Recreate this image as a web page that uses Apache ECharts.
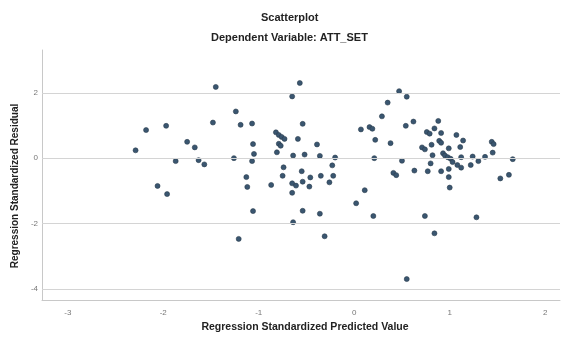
<!DOCTYPE html>
<html>
<head>
<meta charset="utf-8">
<script src="https://cdn.jsdelivr.net/npm/echarts@6/dist/echarts.min.js"></script>
<style>html,body{margin:0;padding:0;background:#fff;}#c{width:565px;height:338px;}</style>
</head>
<body>
<div id="c"></div>
<script>
var chartTitle = "Scatterplot";
var chartSubtitle = "Dependent Variable: ATT_SET";
var xName = "Regression Standardized Predicted Value";
var yName = "Regression Standardized Residual";
var xTicks = [-3, -2, -1, 0, 1, 2];
var yTicks = [-4, -2, 0, 2];
var predicted = [-2.29,-2.18,-2.06,-1.97,-1.96,-1.87,-1.75,-1.67,-1.63,-1.57,-1.48,-1.45,-1.24,-1.26,-1.21,-1.19,-1.13,-1.12,-1.07,-1.06,-1.05,-1.07,-1.06,-0.87,-0.82,-0.79,-0.76,-0.73,-0.79,-0.77,-0.81,-0.74,-0.75,-0.65,-0.61,-0.65,-0.64,-0.65,-0.57,-0.54,-0.59,-0.64,-0.52,-0.55,-0.54,-0.47,-0.46,-0.54,-0.39,-0.36,-0.35,-0.36,-0.31,-0.26,-0.23,-0.22,-0.20,0.02,0.07,0.11,0.16,0.19,0.22,0.21,0.20,0.29,0.35,0.38,0.41,0.44,0.47,0.55,0.50,0.54,0.62,0.63,0.55,0.74,0.84,0.71,0.74,0.76,0.79,0.84,0.88,0.91,0.81,0.89,0.91,0.82,0.80,0.77,0.91,0.99,0.93,0.95,0.98,1.01,1.03,1.08,1.12,0.99,0.99,1.00,1.07,1.14,1.11,1.12,1.22,1.24,1.30,1.28,1.37,1.44,1.46,1.45,1.53,1.62,1.66];
var residual = [0.24,0.86,-0.85,0.99,-1.10,-0.09,0.50,0.33,-0.06,-0.19,1.09,2.18,1.43,0.00,-2.47,1.02,-0.58,-0.88,1.06,0.43,0.13,-0.09,-1.62,-0.82,0.79,0.71,0.65,0.59,0.44,0.38,0.18,-0.28,-0.54,-0.77,-0.84,-1.06,-1.96,1.89,2.30,1.05,0.59,0.08,0.11,-0.40,-0.72,-0.87,-0.59,-1.61,0.42,0.07,-0.54,-1.70,-2.39,-0.74,-0.22,-0.54,0.02,-1.38,0.88,-0.98,0.95,0.90,0.56,0.00,-1.77,1.28,1.70,0.46,-0.45,-0.52,2.05,1.88,-0.08,0.99,1.12,-0.38,-3.70,-1.77,-2.30,0.33,0.27,0.80,0.75,0.91,1.14,0.77,0.41,0.53,0.47,0.09,-0.16,-0.40,-0.40,0.30,0.15,0.08,0.03,-0.02,-0.12,-0.21,-0.29,-0.33,-0.58,-0.90,0.71,0.54,0.34,0.03,-0.21,0.05,-0.09,-1.81,0.04,0.50,0.43,0.17,-0.62,-0.51,-0.03];

var points = predicted.map(function (v, i) { return [v, residual[i]]; });
var gridLineData = yTicks.map(function (v) { return { yAxis: v }; });

var chart = echarts.init(document.getElementById('c'), null, { renderer: 'canvas' });
var fontFam = '"Liberation Sans", Arial, sans-serif';
chart.setOption({
  animation: false,
  backgroundColor: '#ffffff',
  title: [
    { text: chartTitle, left: 261, top: 12, padding: 0,
      textStyle: { fontFamily: fontFam, fontSize: 11, fontWeight: 'bold', color: '#222' } },
    { text: chartSubtitle, left: 211, top: 32, padding: 0,
      textStyle: { fontFamily: fontFam, fontSize: 11, fontWeight: 'bold', color: '#222' } }
  ],
  grid: { left: 42, top: 50, width: 518, height: 250, containLabel: false },
  xAxis: {
    type: 'value', min: -3.27, max: 2.155,
    name: xName, nameLocation: 'middle', nameGap: 22,
    nameTextStyle: { fontFamily: fontFam, fontSize: 10.5, fontWeight: 'bold', color: '#222', padding: [0, 0, 0, 8] },
    axisLine: { show: true, onZero: false, lineStyle: { color: '#c8c8c8', width: 1 } },
    axisTick: { show: false },
    splitLine: { show: false },
    axisLabel: { customValues: xTicks, fontFamily: fontFam, fontSize: 8, color: '#777', margin: 9 }
  },
  yAxis: {
    type: 'value', min: -4.34, max: 3.31,
    name: yName, nameLocation: 'middle', nameGap: 21,
    nameTextStyle: { fontFamily: fontFam, fontSize: 10, fontWeight: 'bold', color: '#222', padding: [0, 22, 0, 0] },
    axisLine: { show: true, onZero: false, lineStyle: { color: '#c8c8c8', width: 1 } },
    axisTick: { show: false },
    splitLine: { show: false },
    axisLabel: { customValues: yTicks, fontFamily: fontFam, fontSize: 8, color: '#777', margin: 4 }
  },
  series: [
    {
      type: 'scatter', data: [], z: 1, silent: true,
      markLine: {
        silent: true, symbol: ['none', 'none'], animation: false,
        label: { show: false },
        lineStyle: { color: '#d4d4d4', width: 1, type: 'solid' },
        data: gridLineData
      }
    },
    {
      type: 'scatter', z: 3, symbol: 'circle', symbolSize: 5,
      itemStyle: { color: '#3a5670', borderColor: '#2a3d4e', borderWidth: 0.6, opacity: 1 },
      data: points
    }
  ]
});
</script>
</body>
</html>
